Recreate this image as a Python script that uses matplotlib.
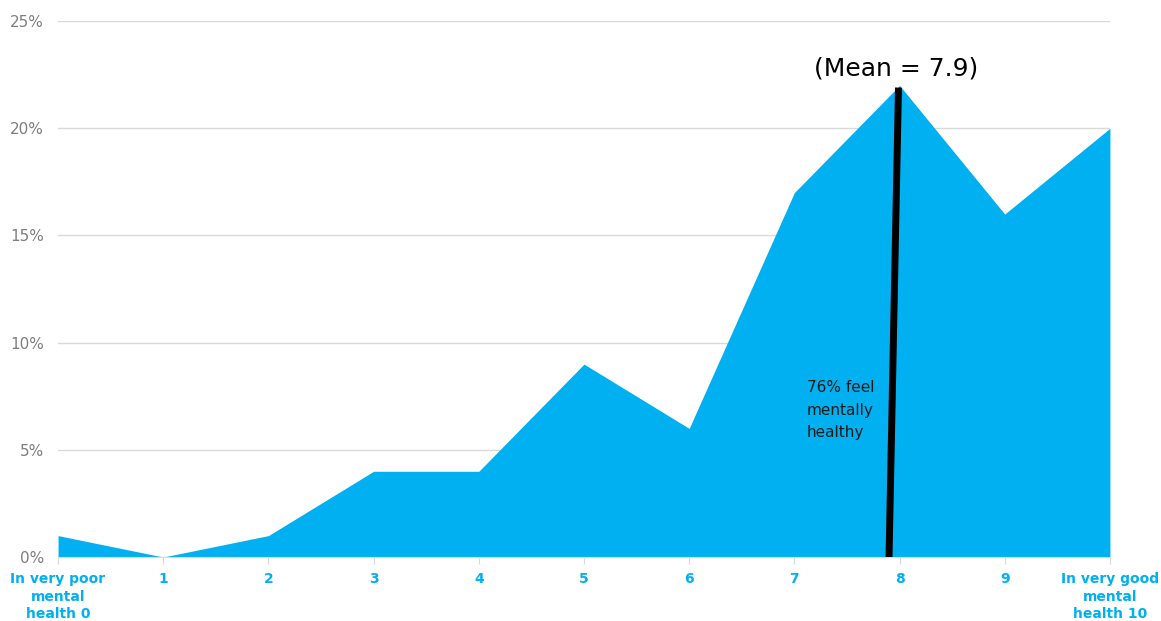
import numpy as np
import matplotlib.pyplot as plt

# Data
scores = list(range(11))
tick_labels = ['In very poor\nmental\nhealth 0', '1', '2', '3', '4', '5', '6', '7', '8', '9',
               'In very good\nmental\nhealth 10']
share = [1, 0, 1, 4, 4, 9, 6, 17, 22, 16, 20]
mean_score = 7.9
mean_line_x = [7.9, 7.99]
mean_line_y = [0, 21.9]

blue = '#00B0F0'

fig = plt.figure(figsize=(11.61, 6.21), dpi=100)
ax = fig.add_axes([0.05, 0.103, 0.906, 0.863])

ax.fill_between(scores, share, 0, color=blue, linewidth=0, zorder=2)
ax.plot(mean_line_x, mean_line_y, color='black', linewidth=5, solid_capstyle='butt', zorder=3)

ax.text(7.97, 22.8, '(Mean = %.1f)' % mean_score, ha='center', va='center', fontsize=18, color='black')
ax.text(7.12, 6.85, '76% feel\nmentally\nhealthy', ha='left', va='center', fontsize=11,
        color='#1a1a1a', linespacing=1.6, zorder=4)

ax.set_xlim(0, 10)
ax.set_ylim(0, 25)
ax.set_yticks([0, 5, 10, 15, 20, 25])
ax.set_yticklabels(['0%', '5%', '10%', '15%', '20%', '25%'], fontsize=11, color='#7F7F7F')
ax.set_xticks(scores)
ax.set_xticklabels(tick_labels, fontsize=10, fontweight='bold', color=blue, linespacing=1.3)

ax.grid(axis='y', color='#D9D9D9', linewidth=1, zorder=0)
ax.set_axisbelow(True)
for s in ['top', 'right', 'left']:
    ax.spines[s].set_visible(False)
ax.spines['bottom'].set_color('#D9D9D9')
ax.tick_params(axis='y', length=0, pad=10)
ax.tick_params(axis='x', length=5, color='#D9D9D9', pad=6)

fig.savefig('out.png', dpi=100)
